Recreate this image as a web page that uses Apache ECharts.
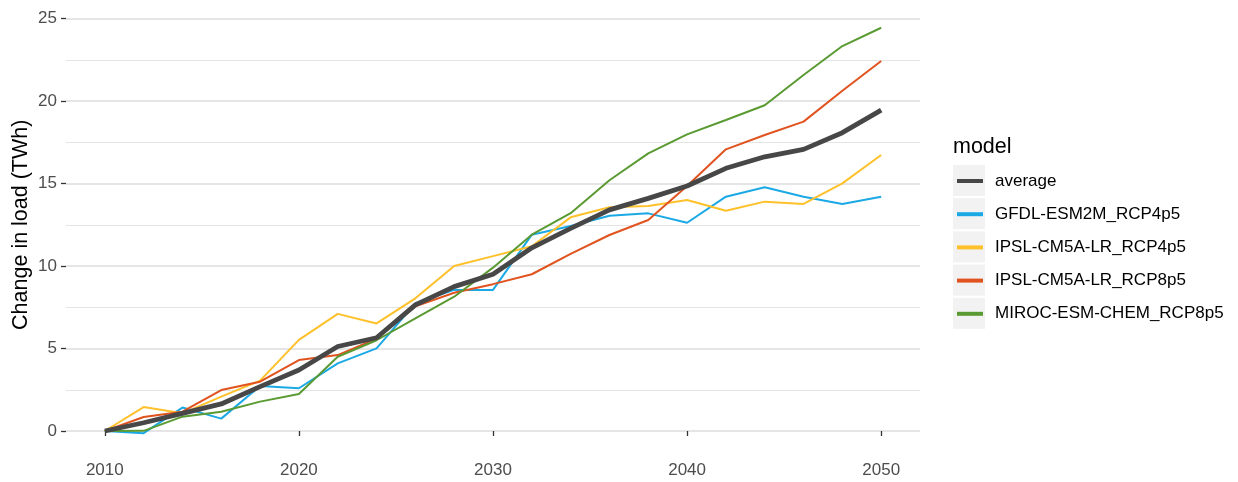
<!DOCTYPE html>
<html>
<head>
<meta charset="utf-8">
<script src="https://cdn.jsdelivr.net/npm/echarts@6/dist/echarts.min.js"></script>
<style>
  html, body { margin: 0; padding: 0; background: #fff; }
  #chart { width: 1238px; height: 482px; }
</style>
</head>
<body>
<div id="chart"></div>
<script>
// years, every 2 years
const years = [2010, 2012, 2014, 2016, 2018, 2020, 2022, 2024, 2026, 2028, 2030,
  2032, 2034, 2036, 2038, 2040, 2042, 2044, 2046, 2048, 2050];
const xTicks = [2010, 2020, 2030, 2040, 2050];

// change in load (TWh)
const average = [0, 0.5, 1.07, 1.64, 2.69, 3.7, 5.12, 5.65, 7.64, 8.75, 9.5,
  11.1, 12.28, 13.4, 14.1, 14.85, 15.92, 16.62, 17.07, 18.08, 19.45];
const gfdl45 = [0, -0.13, 1.42, 0.75, 2.73, 2.59, 4.1, 5.01, 7.74, 8.55, 8.55,
  11.9, 12.42, 13.05, 13.19, 12.62, 14.2, 14.77, 14.2, 13.76, 14.2];
const ipsl45 = [0, 1.45, 1.07, 2.08, 3.05, 5.52, 7.1, 6.52, 8.04, 10.0, 10.6,
  11.2, 12.95, 13.56, 13.64, 14.0, 13.35, 13.9, 13.76, 15.01, 16.73];
const ipsl85 = [0, 0.85, 1.17, 2.48, 2.99, 4.3, 4.6, 5.6, 7.55, 8.38, 8.9,
  9.5, 10.73, 11.88, 12.79, 14.85, 17.07, 17.94, 18.75, 20.62, 22.42];
const miroc85 = [0, 0.01, 0.87, 1.17, 1.78, 2.24, 4.5, 5.5, 6.83, 8.14, 9.9,
  11.9, 13.2, 15.2, 16.83, 17.98, 18.85, 19.74, 21.58, 23.33, 24.44];

const models = [
  { name: "average", data: average, color: "#474747", width: 4.8, z: 5 },
  { name: "GFDL-ESM2M_RCP4p5", data: gfdl45, color: "#1ba9e6", width: 2, z: 2 },
  { name: "IPSL-CM5A-LR_RCP4p5", data: ipsl45, color: "#ffc12b", width: 2, z: 2 },
  { name: "IPSL-CM5A-LR_RCP8p5", data: ipsl85, color: "#e0531f", width: 2, z: 2 },
  { name: "MIROC-ESM-CHEM_RCP8p5", data: miroc85, color: "#5a9a32", width: 2, z: 2 },
];

const font = "Liberation Sans, Arial, sans-serif";

// grey key backgrounds of the legend
const keyBoxes = models.map((m, i) => ({
  type: "rect",
  left: 953,
  top: 165 + i * 33.2,
  z: 0,
  shape: { width: 32, height: 31 },
  style: { fill: "#f2f2f2" },
}));

const chart = echarts.init(document.getElementById("chart"));
chart.setOption({
  animation: false,
  backgroundColor: "#fff",
  grid: { left: 66, right: 318, top: 18.5, bottom: 51 },
  xAxis: {
    type: "value",
    min: 2008,
    max: 2052,
    offset: 22,
    axisLine: { show: false },
    splitLine: { show: false },
    axisTick: {
      show: true,
      length: 5,
      customValues: xTicks,
      lineStyle: { color: "#333", width: 1.3 },
    },
    axisLabel: {
      customValues: xTicks,
      formatter: (v) => String(v),
      margin: 9,
      color: "#4d4d4d",
      fontSize: 17,
      fontFamily: font,
    },
  },
  yAxis: {
    type: "value",
    min: 0,
    max: 25,
    interval: 5,
    name: "Change in load (TWh)",
    nameLocation: "middle",
    nameGap: 34,
    nameMoveOverlap: false,
    nameTextStyle: { color: "#000", fontSize: 21.5, fontFamily: font },
    axisLine: { show: false },
    axisTick: { show: true, length: 5, lineStyle: { color: "#333", width: 1.3 } },
    axisLabel: { margin: 9, color: "#4d4d4d", fontSize: 17, fontFamily: font },
    splitLine: { show: true, lineStyle: { color: "#dcdcdc", width: 1.5 } },
    minorTick: { show: false, splitNumber: 2 },
    minorSplitLine: { show: true, lineStyle: { color: "#e4e4e4", width: 1 } },
  },
  legend: {
    orient: "vertical",
    left: 952,
    top: 165,
    itemWidth: 26,
    itemHeight: 4,
    itemGap: 11.2,
    data: models.map((m) => ({
      name: m.name,
      icon: "rect",
      itemStyle: { color: m.color },
    })),
    textStyle: {
      color: "#000",
      fontSize: 17,
      lineHeight: 22,
      fontFamily: font,
      padding: [0, 0, 0, 7],
    },
  },
  graphic: [
    ...keyBoxes,
    {
      type: "text",
      left: 953,
      top: 136,
      style: { text: "model", fill: "#000", fontSize: 21.5, fontFamily: font },
    },
  ],
  series: models.map((m) => ({
    name: m.name,
    type: "line",
    symbol: "none",
    clip: false,
    z: m.z,
    color: m.color,
    lineStyle: { color: m.color, width: m.width },
    data: years.map((y, i) => [y, m.data[i]]),
  })),
});
</script>
</body>
</html>
